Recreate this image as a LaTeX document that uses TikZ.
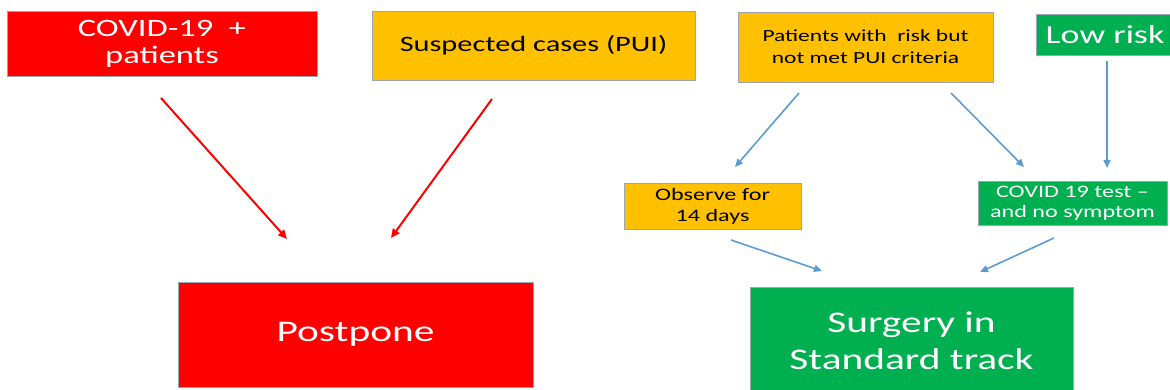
\documentclass[tikz,border=0pt]{standalone}
\usepackage{fontspec}
\setmainfont{Carlito}[FakeStretch=1.38]
\usetikzlibrary{arrows.meta}
\definecolor{cred}{HTML}{FF0000}
\definecolor{cyel}{HTML}{FFC000}
\definecolor{cgrn}{HTML}{00B050}
\definecolor{cblu}{HTML}{5B9BD5}
\definecolor{cbrd}{HTML}{9AA6B8}
\tikzset{
  box/.style={draw=cbrd, line width=0.9pt, inner sep=0pt, align=center, anchor=center},
  redbox/.style={box, fill=cred, text=white},
  yelbox/.style={box, fill=cyel, text=black},
  grnbox/.style={box, fill=cgrn, text=white},
  redarrow/.style={draw=cred, line width=2pt, -{Triangle[length=9pt,width=8pt]}},
  bluarrow/.style={draw=cblu, line width=1.6pt, -{Triangle[length=8pt,width=7pt]}},
}
\begin{document}
\begin{tikzpicture}[x=1pt,y=-1pt]
\useasboundingbox (0,0) rectangle (1170,390);
% boxes
\node[redbox, minimum width=310pt, minimum height=65pt, font=\fontsize{25}{27}\selectfont] (c19) at (162,43.5) {COVID-19\ \ +\\patients};
\node[yelbox, minimum width=323pt, minimum height=69pt, font=\fontsize{22}{26}\selectfont] (pui) at (533.5,45.5) {Suspected cases (PUI)};
\node[yelbox, minimum width=255pt, minimum height=70pt, font=\fontsize{17}{22}\selectfont] (risk) at (865.5,47) {Patients with\ \ risk but\\not met PUI criteria};
\node[grnbox, minimum width=138pt, minimum height=41pt, font=\fontsize{26}{30}\selectfont] (low) at (1105,34.5) {Low risk};
\node[yelbox, minimum width=177pt, minimum height=46pt, font=\fontsize{17.5}{21}\selectfont] (obs) at (712.5,206) {Observe for\\14 days};
\node[grnbox, minimum width=189pt, minimum height=44pt, font=\fontsize{17.5}{20}\selectfont] (test) at (1072.5,203) {COVID 19 test --\\and no symptom};
\node[redbox, minimum width=355pt, minimum height=105pt, font=\fontsize{30}{34}\selectfont] (post) at (355.5,334.5) {Postpone};
\node[grnbox, minimum width=323pt, minimum height=108pt, font=\fontsize{30}{37}\selectfont] (surg) at (911.5,341) {Surgery in\\Standard track};
% arrow end points
\coordinate (r1s) at (161,98);  \coordinate (r1e) at (287,239);
\coordinate (r2s) at (492,99);  \coordinate (r2e) at (391,238);
\coordinate (b1s) at (799,93);  \coordinate (b1e) at (735,167);
\coordinate (b2s) at (951,93);  \coordinate (b2e) at (1024,167);
\coordinate (b3s) at (1107,61); \coordinate (b3e) at (1107,168);
\coordinate (b4s) at (731,240); \coordinate (b4e) at (822,271);
\coordinate (b5s) at (1054,238);\coordinate (b5e) at (980,272);
% arrows
\draw[redarrow] (r1s) -- (r1e);
\draw[redarrow] (r2s) -- (r2e);
\draw[bluarrow] (b1s) -- (b1e);
\draw[bluarrow] (b2s) -- (b2e);
\draw[bluarrow] (b3s) -- (b3e);
\draw[bluarrow] (b4s) -- (b4e);
\draw[bluarrow] (b5s) -- (b5e);
\end{tikzpicture}
\end{document}
